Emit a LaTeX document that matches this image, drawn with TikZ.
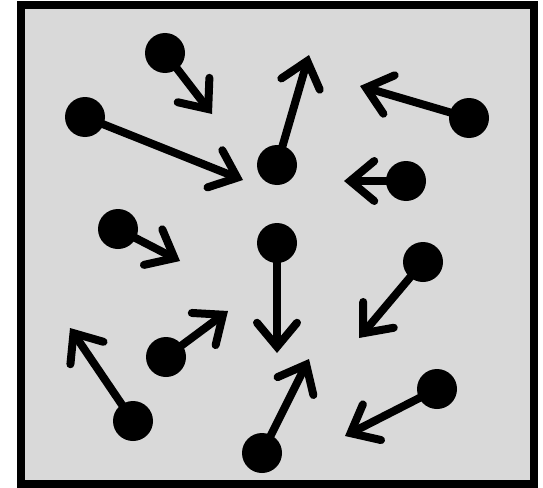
\documentclass[tikz,border=0pt]{standalone}
\usetikzlibrary{arrows.meta}
\definecolor{boxgray}{HTML}{D9D9D9}
\tikzset{
  particle/.style={circle, fill=black, inner sep=0pt, minimum size=40pt},
  velocity/.style={line width=8pt, line cap=round,
    -{Straight Barb[length=24pt, width=40pt, line cap=round, line join=miter]}},
  frame/.style={draw=black, fill=boxgray, line width=8pt}
}
\begin{document}
\begin{tikzpicture}[x=1pt, y=-1pt]
  \useasboundingbox (0,0) rectangle (543,487);
  \draw[frame] (21,5.5) rectangle (534,484);

  % particles
  \node[particle] (p1)  at (165,53)  {};
  \node[particle] (p2)  at (85,117)  {};
  \node[particle] (p3)  at (277,165) {};
  \node[particle] (p4)  at (469,118) {};
  \node[particle] (p5)  at (406,181) {};
  \node[particle] (p6)  at (118,229) {};
  \node[particle] (p7)  at (277,243) {};
  \node[particle] (p8)  at (423,262) {};
  \node[particle] (p9)  at (166,357) {};
  \node[particle] (p10) at (133,421) {};
  \node[particle] (p11) at (437,389) {};
  \node[particle] (p12) at (262,453) {};

  % velocity tips
  \coordinate (v1)  at (212,114);
  \coordinate (v2)  at (243,180);
  \coordinate (v3)  at (309,55);
  \coordinate (v4)  at (360,86);
  \coordinate (v5)  at (344,181);
  \coordinate (v6)  at (180,261);
  \coordinate (v7)  at (277,353);
  \coordinate (v8)  at (359,338);
  \coordinate (v9)  at (228,311);
  \coordinate (v10) at (70,328);
  \coordinate (v11) at (345,436);
  \coordinate (v12) at (309,359);

  \foreach \i in {1,...,12}
    \draw[velocity] (p\i.center) -- (v\i);
\end{tikzpicture}
\end{document}
